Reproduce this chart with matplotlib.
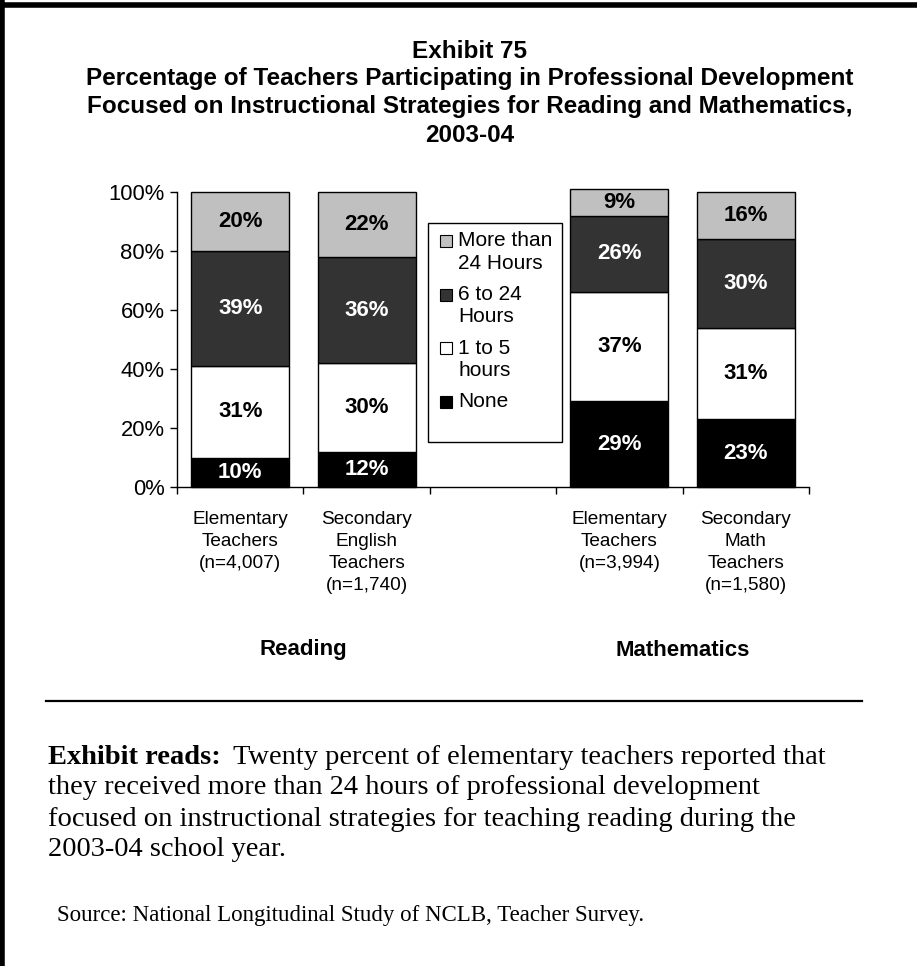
import numpy as np
import matplotlib
matplotlib.use('Agg')
import matplotlib.pyplot as plt
from matplotlib import transforms
from matplotlib.patches import Rectangle
from matplotlib.lines import Line2D

plt.rcParams['font.family'] = ['Liberation Sans', 'DejaVu Sans']

# Data
categories = ['Elementary\nTeachers\n(n=4,007)',
              'Secondary\nEnglish\nTeachers\n(n=1,740)',
              'Elementary\nTeachers\n(n=3,994)',
              'Secondary\nMath\nTeachers\n(n=1,580)']
groups = ['Reading', 'Mathematics']
none = [10, 12, 29, 23]
one_to_five = [31, 30, 37, 31]
six_to_24 = [39, 36, 26, 30]
more_24 = [20, 22, 9, 16]

series_labels = ['None', '1 to 5\nhours', '6 to 24\nHours', 'More than\n24 Hours']
series_values = [none, one_to_five, six_to_24, more_24]
series_colors = ['#000000', '#ffffff', '#333333', '#c0c0c0']
text_colors = ['white', 'black', 'white', 'black']

title_lines = ['Exhibit 75',
               'Percentage of Teachers Participating in Professional Development',
               'Focused on Instructional Strategies for Reading and Mathematics,',
               '2003-04']
note_bold = 'Exhibit reads:'
note_lines = ['Twenty percent of elementary teachers reported that',
              'they received more than 24 hours of professional development',
              'focused on instructional strategies for teaching reading during the',
              '2003-04 school year.']
source = 'Source: National Longitudinal Study of NCLB, Teacher Survey.'

W, H = 917, 966
fig = plt.figure(figsize=(W / 100, H / 100), dpi=100)
fig.patch.set_facecolor('white')


def fx(px):
    return px / W


def fy(py):
    return 1 - py / H


# frame lines (top and left only)
fig.add_artist(Line2D([0, 1], [fy(5), fy(5)], color='black', lw=4))
fig.add_artist(Line2D([fx(2), fx(2)], [0, 1], color='black', lw=4))

for i, line in enumerate(title_lines):
    fig.text(fx(470), fy(51 + i * 28), line, ha='center', va='center',
             fontsize=17.5, fontweight='bold')

ax = fig.add_axes([fx(177), fy(487), fx(809) - fx(177), fy(192) - fy(487)])
xpos = np.array([0, 1, 3, 4])
bar_w = 0.775

bottom = np.zeros(len(xpos))
for vals, col, tcol in zip(series_values, series_colors, text_colors):
    vals = np.array(vals, dtype=float)
    ax.bar(xpos, vals, bar_w, bottom=bottom, color=col, edgecolor='black',
           linewidth=1, clip_on=False)
    for x, b, v in zip(xpos, bottom, vals):
        ax.text(x, b + v / 2, f'{int(v)}%', ha='center', va='center',
                color=tcol, fontsize=16, fontweight='bold')
    bottom += vals

ax.set_xlim(-0.5, 4.5)
ax.set_ylim(0, 100)
ax.set_yticks(np.arange(0, 101, 20))
ax.set_yticklabels([f'{v}%' for v in range(0, 101, 20)], fontsize=15.8)
ax.set_xticks(xpos)
ax.set_xticklabels(categories, fontsize=13.7, linespacing=1.4)
ax.set_xticks(np.arange(-0.5, 4.6, 1), minor=True)
ax.tick_params(axis='x', which='major', length=0, pad=17)
ax.tick_params(axis='x', which='minor', length=5, width=1, direction='out')
ax.tick_params(axis='y', length=5, width=1, direction='out', pad=4)
for s in ['top', 'right']:
    ax.spines[s].set_visible(False)
for s in ['left', 'bottom']:
    ax.spines[s].set_linewidth(1)

# group labels
trans = transforms.blended_transform_factory(ax.transData, fig.transFigure)
for g, idx in zip(groups, [(0, 1), (2, 3)]):
    ax.text(xpos[list(idx)].mean(), fy(650), g, transform=trans, ha='center',
            va='center', fontsize=16, fontweight='bold')

# legend box
fig.add_artist(Rectangle((fx(428), fy(442)), fx(562) - fx(428), fy(223) - fy(442),
                         transform=fig.transFigure, facecolor='white',
                         edgecolor='black', lw=1))
y = 241
for lab, col in zip(series_labels[::-1], series_colors[::-1]):
    lines = lab.split('\n')
    fig.add_artist(Rectangle((fx(440), fy(y + 6)), fx(12), 12 / H,
                             transform=fig.transFigure, facecolor=col,
                             edgecolor='black', lw=0.8))
    for i, line in enumerate(lines):
        fig.text(fx(458), fy(y + i * 22.5), line, ha='left', va='center',
                 fontsize=15)
    y += (len(lines) - 1) * 22.5 + 31

# separator
fig.add_artist(Line2D([fx(46), fx(862)], [fy(701), fy(701)], color='black', lw=1.6))

serif = ['Liberation Serif', 'DejaVu Serif']
t1 = fig.text(fx(48), fy(757), note_bold, ha='left', va='center', fontsize=20.5,
              fontweight='bold', family=serif)
fig.canvas.draw()
bb = t1.get_window_extent()
for i, line in enumerate(note_lines):
    x0 = (bb.x1 + 12) / W if i == 0 else fx(48)
    fig.text(x0, fy(757 + i * 31), line, ha='left', va='center',
             fontsize=20.5, family=serif)
fig.text(fx(57), fy(916), source, ha='left', va='center', fontsize=16.5,
         family=serif)

fig.savefig('out.png', dpi=100)
